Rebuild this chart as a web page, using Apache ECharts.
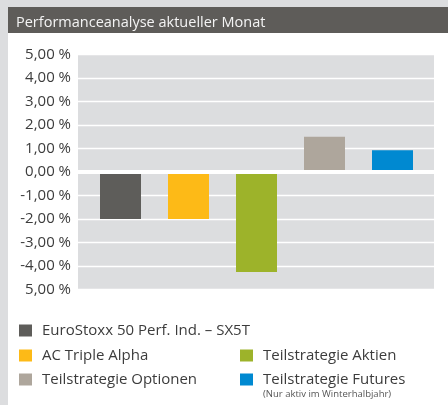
<!DOCTYPE html>
<html lang="de">
<head>
    <meta charset="UTF-8">
    <title>Performanceanalyse aktueller Monat</title>
    <script src="https://cdn.jsdelivr.net/npm/echarts@6/dist/echarts.min.js"></script>
    <style>
        body, html {
            margin: 0;
            padding: 0;
            background: #dcdddf;
        }
        #main {
            width: 448px;
            height: 405px;
        }
    </style>
</head>
<body>
<div id="main"></div>
<script>
    // Daten
    var categories = ['EuroStoxx 50 Perf. Ind. – SX5T', 'AC Triple Alpha', 'Teilstrategie Aktien', 'Teilstrategie Optionen', 'Teilstrategie Futures'];
    var values = [-2.0, -2.0, -4.25, 1.5, 0.93];
    var colors = ['#5e5d5a', '#fdba17', '#9db32a', '#aea69c', '#0089d1'];
    var tickLabels = ['5,00 %', '4,00 %', '3,00 %', '2,00 %', '1,00 %', '0,00 %', '-1,00 %', '-2,00 %', '-3,00 %', '-4,00 %', '5,00 %'];

    var font = '"Open Sans", "Noto Sans", sans-serif';
    var textColor = '#3c3c3c';

    var chart = echarts.init(document.getElementById('main'));

    // one series per bar so each one gets its own legend entry
    var series = categories.map(function (name, i) {
        var data = categories.map(function (c, j) { return j === i ? values[i] : '-'; });
        return {
            name: name,
            type: 'bar',
            xAxisIndex: 1,
            yAxisIndex: 1,
            barWidth: 41,
            barGap: '-100%',
            itemStyle: { color: colors[i] },
            data: data
        };
    });

    // legend positions: [left, top]
    var legendPos = [[19, 323], [19, 348], [240, 348], [19, 372], [240, 372]];
    var legends = categories.map(function (name, i) {
        return {
            left: legendPos[i][0],
            top: legendPos[i][1],
            data: [name],
            icon: 'rect',
            itemWidth: 13,
            itemHeight: 12,
            selectedMode: false,
            padding: 0,
            textStyle: {
                fontFamily: font,
                fontSize: 15,
                color: textColor,
                padding: [0, 0, 0, 5]
            }
        };
    });

    var option = {
        backgroundColor: '#dcdddf',
        animation: false,
        title: {
            text: 'Performanceanalyse aktueller Monat',
            left: 11,
            top: 10,
            textStyle: {
                fontFamily: font,
                fontSize: 14.5,
                fontWeight: 'normal',
                color: '#f4f4f4'
            }
        },
        graphic: [
            {
                type: 'rect',
                z: -10,
                shape: { x: 8, y: 7, width: 440, height: 26 },
                style: { fill: '#5e5c59' }
            },
            {
                type: 'rect',
                z: -10,
                shape: { x: 8, y: 33, width: 440, height: 372 },
                style: { fill: '#ffffff' }
            },
            {
                type: 'text',
                left: 263,
                top: 389,
                style: {
                    text: '(Nur aktiv im Winterhalbjahr)',
                    fontFamily: font,
                    fontSize: 9.5,
                    fill: '#555'
                }
            }
        ],
        legend: legends,
        grid: [
            {
                left: 78, right: 14, top: 54.5, height: 235,
                show: true, backgroundColor: '#dcdddf', borderWidth: 0
            },
            {
                left: 86.5, right: 21.5, top: 54.5, height: 235
            }
        ],
        xAxis: [
            {
                gridIndex: 0,
                type: 'category',
                data: categories,
                z: 5,
                axisLine: { onZero: true, lineStyle: { color: '#ffffff', width: 4 } },
                axisTick: { show: false },
                axisLabel: { show: false }
            },
            {
                gridIndex: 1,
                type: 'category',
                data: categories,
                show: false
            }
        ],
        yAxis: [
            {
                gridIndex: 0,
                type: 'value',
                min: -5,
                max: 5,
                interval: 1,
                axisLine: { show: false },
                axisTick: { show: false },
                splitLine: { lineStyle: { color: '#ffffff', width: 1.3 } },
                axisLabel: {
                    fontFamily: font,
                    fontSize: 15,
                    color: textColor,
                    margin: 7,
                    formatter: function (v) {
                        return tickLabels[Math.round(5 - v)];
                    }
                }
            },
            {
                gridIndex: 1,
                type: 'value',
                min: -5,
                max: 5,
                interval: 1,
                show: false,
                splitLine: { show: false }
            }
        ],
        series: series
    };

    chart.setOption(option);
</script>
</body>
</html>
